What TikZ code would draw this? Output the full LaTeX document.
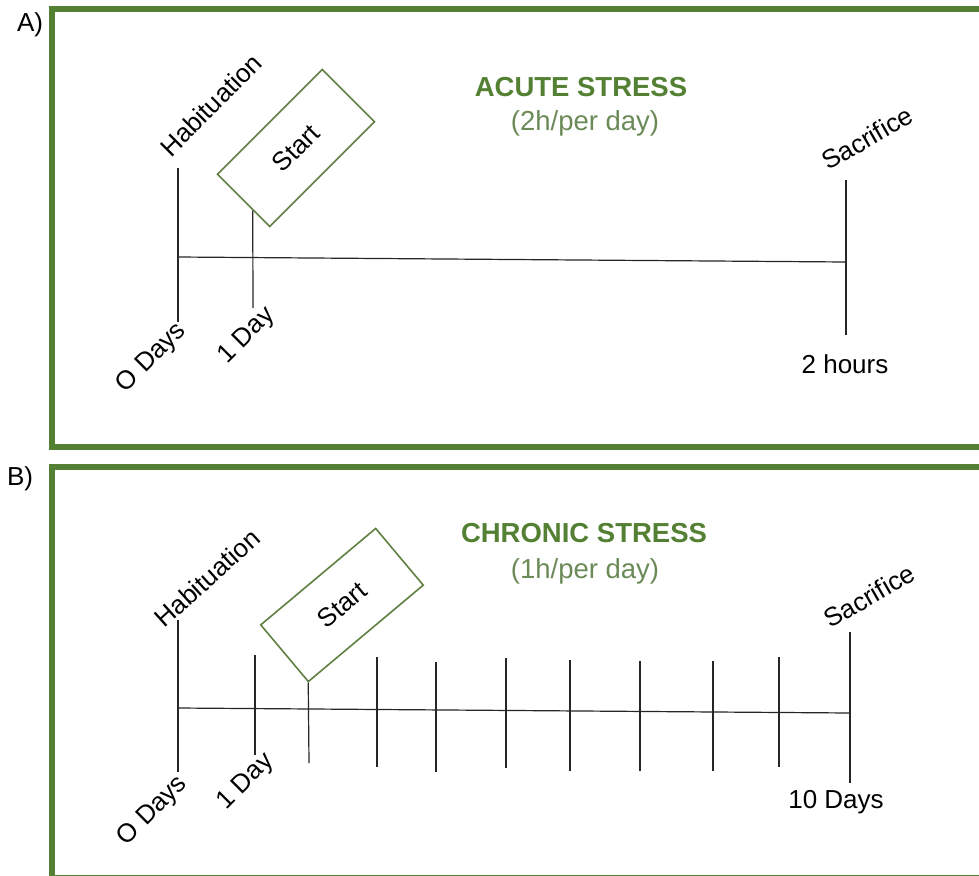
\documentclass[tikz,border=0pt]{standalone}
\usepackage{fontspec}
\setmainfont{Liberation Sans}
\usetikzlibrary{calc}
\definecolor{framegreen}{RGB}{84,128,52}
\definecolor{titlegreen}{RGB}{84,128,52}
\definecolor{subgreen}{RGB}{108,138,88}
\definecolor{boxgreen}{RGB}{96,128,66}
\tikzset{
  panel/.style={draw=framegreen, line width=6pt},
  tline/.style={draw=black!85, line width=1.2pt},
  lbl/.style={inner sep=0pt, font=\fontsize{26}{30}\selectfont},
  ttl/.style={inner sep=0pt, font=\fontsize{27.5}{32}\selectfont\bfseries, text=titlegreen},
  subttl/.style={inner sep=0pt, font=\fontsize{27.5}{32}\selectfont, text=subgreen},
  startbox/.style={draw=boxgreen, line width=1.6pt, inner sep=0pt, minimum height=74pt, font=\fontsize{26}{30}\selectfont},
}
\begin{document}
\begin{tikzpicture}[x=1pt,y=-1pt]
\useasboundingbox (0,0) rectangle (979,875);
\clip (0,0) rectangle (979,875);
\fill[white] (0,0) rectangle (979,875);
% panel frames
\draw[panel] (51.5,9.5) rectangle (990,447);
\draw[panel] (51.5,467) rectangle (990,878);
\node[lbl] (la) at (30,25) {A)};
\node[lbl] (lb) at (20,479) {B)};

% ---------- Panel A ----------
\node[ttl] (ta) at (581,87) {ACUTE STRESS};
\node[subttl] (sta) at (585,123) {(2h/per day)};
\node[startbox, minimum width=148pt, rotate=45] (sa) at (296,148) {Start};

\coordinate (a0) at (178,257);
\coordinate (a1) at (846,262);
\coordinate (ah0) at (178,168);
\coordinate (ah1) at (178,322);
\coordinate (ad1) at (253,308);
\coordinate (as0) at (846,180);
\coordinate (as1) at (846,335);
\coordinate (adtop) at ($(sa.north west)!0.68!(sa.south west)$);

\draw[tline] (a0) -- (a1);
\draw[tline] (ah0) -- (ah1);
\draw[tline] (adtop) -- (ad1);
\draw[tline] (as0) -- (as1);

\node[lbl, rotate=45] (hab-a) at (211,105) {Habituation};
\node[lbl, rotate=30] (sac-a) at (867,138) {Sacrifice};
\node[lbl, rotate=45] (od-a) at (152,358) {O Days};
\node[lbl, rotate=45] (d1-a) at (247,336) {1 Day};
\node[lbl] (h2-a) at (845,364) {2 hours};

% ---------- Panel B ----------
\node[ttl] (tb) at (584,533) {CHRONIC STRESS};
\node[subttl] (stb) at (585,571) {(1h/per day)};
\node[startbox, minimum width=150pt, rotate=40] (sb) at (342,605) {Start};

\coordinate (b0) at (178,708);
\coordinate (b1) at (850,713);
\coordinate (bh0) at (178,620);
\coordinate (bh1) at (178,772);
\coordinate (bd0) at (255,655);
\coordinate (bd1) at (255,755);
\coordinate (bst1) at (309,763);
\coordinate (bs0) at (850,632);
\coordinate (bs1) at (850,783);

\draw[tline] (b0) -- (b1);
\draw[tline] (bh0) -- (bh1);
\draw[tline] (bd0) -- (bd1);
\draw[tline] (sb.south west) -- (bst1);
\foreach \n/\x/\t/\b in {k3/377/657/767, k4/436/662/772, k5/506/658/768, k6/570/660/771, k7/640/661/771, k8/713/661/771, k9/779/657/767}{
  \coordinate (\n top) at (\x,\t);
  \coordinate (\n bot) at (\x,\b);
  \draw[tline] (\n top) -- (\n bot);
}
\draw[tline] (bs0) -- (bs1);

\node[lbl, rotate=42] (hab-b) at (207,578) {Habituation};
\node[lbl, rotate=30] (sac-b) at (869,596) {Sacrifice};
\node[lbl, rotate=45] (od-b) at (153,811) {O Days};
\node[lbl, rotate=45] (d1-b) at (246,782) {1 Day};
\node[lbl] (d10-b) at (836,802) {10 Days};
\end{tikzpicture}
\end{document}
